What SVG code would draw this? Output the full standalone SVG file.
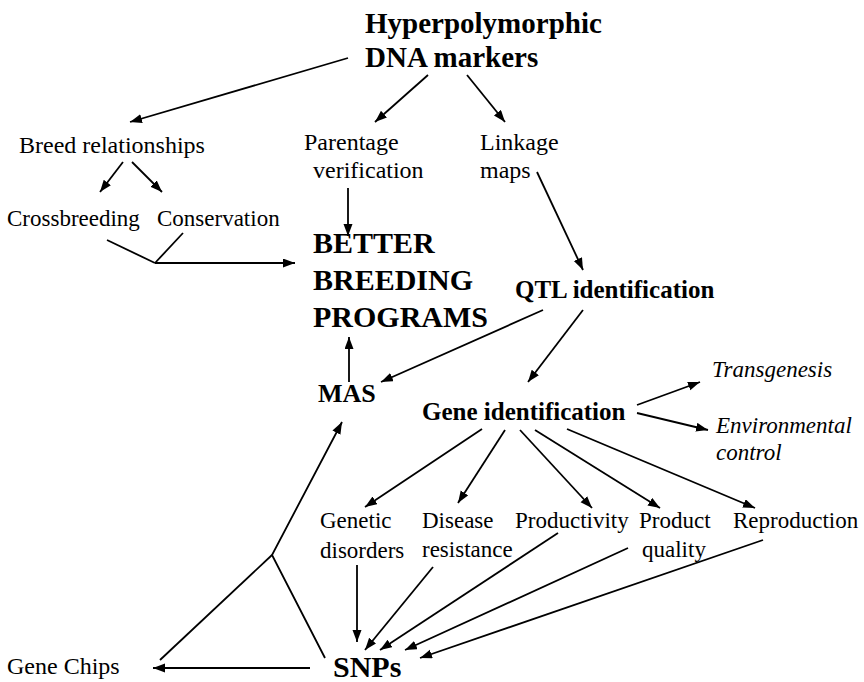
<svg xmlns="http://www.w3.org/2000/svg" width="864" height="682" viewBox="0 0 864 682">
<defs>
<marker id="ah" markerWidth="13" markerHeight="10" refX="12" refY="4.5" orient="auto" markerUnits="userSpaceOnUse">
<path d="M0,0 L12,4.5 L0,9 z" fill="#000"/>
</marker>
<style>
text{font-family:"Liberation Serif","Times New Roman",serif;fill:#000}
.b{font-weight:bold}
.t1{font-size:29px}
.t2{font-size:30px}
.t3{font-size:25px}
.r25{font-size:24px}
.r23{font-size:23px}
.it{font-size:23px;font-style:italic}
.c line,.c polyline{stroke:#000;stroke-width:1.8;fill:none}
.a{marker-end:url(#ah)}
</style>
</defs>
<rect width="864" height="682" fill="#fff"/>
<g id="n-dna"><text class="b t1" x="365" y="33">Hyperpolymorphic</text><text class="b t1" x="365" y="67">DNA markers</text></g>
<g id="n-breed"><text class="r25" x="19" y="153">Breed relationships</text></g>
<g id="n-parentage"><text class="r25" x="304" y="150">Parentage</text><text class="r25" x="313" y="178">verification</text></g>
<g id="n-linkage"><text class="r25" x="480" y="150">Linkage</text><text class="r25" x="480" y="178">maps</text></g>
<g id="n-cross"><text class="r23" x="7" y="226">Crossbreeding</text></g>
<g id="n-cons"><text class="r23" x="157" y="226">Conservation</text></g>
<g id="n-better"><text class="b t2" x="313" y="253">BETTER</text><text class="b t2" x="313" y="290">BREEDING</text><text class="b t2" x="313" y="327">PROGRAMS</text></g>
<g id="n-qtl"><text class="b t3" x="515" y="298">QTL identification</text></g>
<g id="n-mas"><text class="b" style="font-size:26px" x="318" y="402">MAS</text></g>
<g id="n-gene"><text class="b t3" x="422" y="420">Gene identification</text></g>
<g id="n-trans"><text class="it" x="712" y="377">Transgenesis</text></g>
<g id="n-env"><text class="it" x="716" y="433">Environmental</text><text class="it" x="716" y="460">control</text></g>
<g id="n-genetic"><text class="r23" x="320" y="528">Genetic</text><text class="r23" x="320" y="558">disorders</text></g>
<g id="n-disease"><text class="r23" x="422" y="528">Disease</text><text class="r23" x="422" y="557">resistance</text></g>
<g id="n-prod"><text class="r23" x="515" y="528">Productivity</text></g>
<g id="n-quality"><text class="r23" x="639" y="528">Product</text><text class="r23" x="642" y="557">quality</text></g>
<g id="n-repro"><text class="r23" x="733" y="528">Reproduction</text></g>
<g id="n-chips"><text class="r25" x="7" y="674">Gene Chips</text></g>
<g id="n-snps"><text class="b t2" x="333" y="677">SNPs</text></g>
<g id="connectors" class="c">
<line class="a" x1="348" y1="58" x2="130" y2="122"/>
<line class="a" x1="428" y1="75" x2="375" y2="122"/>
<line class="a" x1="467" y1="75" x2="505" y2="122"/>
<line class="a" x1="123" y1="162" x2="100" y2="192"/>
<line class="a" x1="132" y1="162" x2="162" y2="192"/>
<line class="a" x1="348" y1="188" x2="348" y2="236"/>
<line x1="107" y1="240" x2="155" y2="263"/>
<line x1="183" y1="233" x2="155" y2="263"/>
<line class="a" x1="155" y1="263" x2="295" y2="263"/>
<line class="a" x1="537" y1="172" x2="583" y2="270"/>
<line class="a" x1="543" y1="310" x2="381" y2="382"/>
<line class="a" x1="583" y1="310" x2="528" y2="382"/>
<line class="a" x1="349" y1="382" x2="349" y2="337"/>
<line class="a" x1="637" y1="405" x2="700" y2="382"/>
<line class="a" x1="637" y1="413" x2="708" y2="430"/>
<line class="a" x1="482" y1="429" x2="365" y2="507"/>
<line class="a" x1="505" y1="430" x2="458" y2="503"/>
<line class="a" x1="520" y1="430" x2="592" y2="508"/>
<line class="a" x1="535" y1="430" x2="660" y2="508"/>
<line class="a" x1="567" y1="429" x2="755" y2="508"/>
<line class="a" x1="357" y1="565" x2="357" y2="642"/>
<line class="a" x1="433" y1="567" x2="365" y2="650"/>
<line class="a" x1="558" y1="533" x2="380" y2="650"/>
<line class="a" x1="628" y1="548" x2="405" y2="650"/>
<line class="a" x1="763" y1="540" x2="420" y2="658"/>
<line class="a" x1="310" y1="668" x2="153" y2="668"/>
<polyline class="a" points="325,658 272,555 342,422"/>
<line x1="272" y1="555" x2="160" y2="660"/>
</g>
</svg>
